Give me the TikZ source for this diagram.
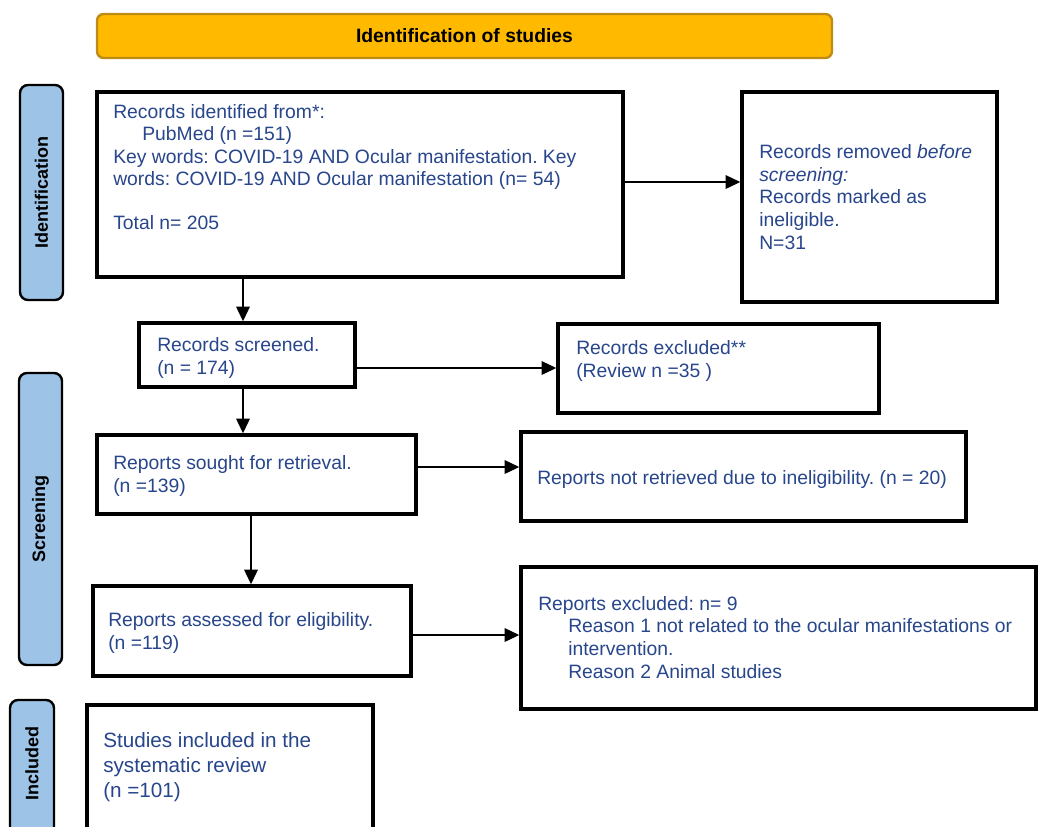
\documentclass[tikz,border=0pt]{standalone}
\usepackage{fontspec}
\setmainfont{Liberation Sans}
\usetikzlibrary{arrows.meta,fit}
\definecolor{txtblue}{RGB}{40,70,140}
\definecolor{bannerfill}{RGB}{255,186,0}
\definecolor{bannerdraw}{RGB}{190,140,20}
\definecolor{sidefill}{RGB}{157,195,230}
\frenchspacing
\begin{document}
\begin{tikzpicture}[x=0.75pt,y=-0.75pt,
  box/.style={draw=black,line width=2.5pt,fill=white,inner sep=0pt},
  txt/.style={anchor=base west,align=left,inner sep=0pt,text=txtblue,font=\frenchspacing\fontsize{14.5}{16.9}\selectfont},
  arr/.style={line width=1.6pt,-{Triangle[length=11pt,width=10pt]}},
  side/.style={draw=black,line width=1.8pt,fill=sidefill,rounded corners=6pt,inner sep=0pt},
  sidetxt/.style={rotate=90,inner sep=0pt,font=\bfseries\fontsize{13.5}{15}\selectfont}]
\useasboundingbox (0,0) rectangle (1038,826);
\clip (0,0) rectangle (1038,826);

% banner
\node[fit={(97,14) (832,58)},draw=bannerdraw,fill=bannerfill,line width=1.8pt,rounded corners=5pt,inner sep=0pt] (banner) {};
\node[inner sep=0pt,font=\bfseries\fontsize{14.5}{16}\selectfont] (bannertxt) at (banner.center) {Identification of studies};

% side bars
\node[side,fit={(20,85) (63,300)}] (sideid) {};
\node[sidetxt] (sideidtxt) at (sideid.center) {Identification};
\node[side,fit={(19,373) (62,665)}] (sidescr) {};
\node[sidetxt] (sidescrtxt) at (sidescr.center) {Screening};
\node[side,fit={(10,700) (54,860)}] (sideinc) {};
\node[sidetxt] (sideinclabel) at (32,763) {Included};

% boxes
\node[box,fit={(97,92) (623,277)}] (box1) {};
\node[box,fit={(742,92) (997,302)}] (removed) {};
\node[box,fit={(139,323) (355,387)}] (screened) {};
\node[box,fit={(558,324) (879,413)}] (excl) {};
\node[box,fit={(97,435) (416,514)}] (sought) {};
\node[box,fit={(521,432) (966,521)}] (notret) {};
\node[box,fit={(93,586) (411,676)}] (assessed) {};
\node[box,fit={(521,567) (1036,709)}] (rexcl) {};
\node[box,fit={(87,705) (373,870)}] (included) {};

% texts (base anchor = baseline of last line)
\node[txt] (box1txt) at (113,229) {Records identified from*:\\
\hspace*{21.75pt}PubMed (n =151)\\
Key words: COVID-19 AND Ocular manifestation. Key\\
words: COVID-19 AND Ocular manifestation (n= 54)\\[15.4pt]
Total n= 205};
\node[txt] (removedtxt) at (759,249) {Records removed \textit{before}\\
\textit{screening:}\\
Records marked as\\
ineligible.\\
N=31};
\node[txt] (screenedtxt) at (157,374) {Records screened.\\(n = 174)};
\node[txt] (excltxt) at (576,377) {Records excluded**\\(Review n =35 )};
\node[txt] (soughttxt) at (113,492) {Reports sought for retrieval.\\(n =139)};
\node[txt] (notrettxt) at (537,484) {Reports not retrieved due to ineligibility. (n = 20)};
\node[txt] (assessedtxt) at (108,649) {Reports assessed for eligibility.\\(n =119)};
\node[txt] (rexcltxt) at (538,678) {Reports excluded: n= 9\\
\hspace*{22.5pt}Reason 1 not related to the ocular manifestations or\\
\hspace*{22.5pt}intervention.\\
\hspace*{22.5pt}Reason 2 Animal studies};
\node[txt,font=\frenchspacing\fontsize{15.5}{18.75}\selectfont] (includedtxt) at (103,797.5) {Studies included in the\\systematic review\\(n =101)};

% arrows
\draw[arr] (box1.south -| 243,0) -- (screened.north -| 243,0);
\draw[arr] (box1.east |- 0,182) -- (removed.west |- 0,182);
\draw[arr] (screened.east |- 0,368) -- (excl.west |- 0,368);
\draw[arr] (screened.south -| 243,0) -- (sought.north -| 243,0);
\draw[arr] (sought.east |- 0,467) -- (notret.west |- 0,467);
\draw[arr] (sought.south -| 251,0) -- (assessed.north -| 251,0);
\draw[arr] (assessed.east |- 0,635) -- (rexcl.west |- 0,635);
\end{tikzpicture}
\end{document}
